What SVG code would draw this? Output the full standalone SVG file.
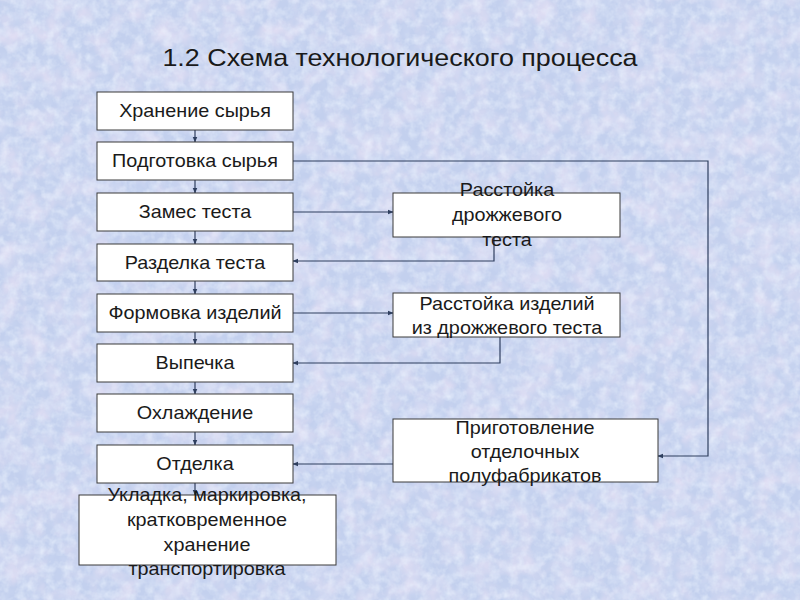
<svg xmlns="http://www.w3.org/2000/svg" width="800" height="600" viewBox="0 0 800 600">
<defs>
<filter id="pink" x="0" y="0" width="100%" height="100%">
<feTurbulence type="fractalNoise" baseFrequency="0.045" numOctaves="3" seed="2"/>
<feColorMatrix type="matrix" values="0 0 0 0 0.86  0 0 0 0 0.78  0 0 0 0 0.92  1.4 0 0 0 -0.55"/>
</filter>
<filter id="light" x="0" y="0" width="100%" height="100%">
<feTurbulence type="fractalNoise" baseFrequency="0.11" numOctaves="3" seed="7"/>
<feColorMatrix type="matrix" values="0 0 0 0 0.84  0 0 0 0 0.9  0 0 0 0 0.99  0 1.3 0 0 -0.5"/>
</filter>
<filter id="dark" x="0" y="0" width="100%" height="100%">
<feTurbulence type="fractalNoise" baseFrequency="0.09" numOctaves="2" seed="11"/>
<feColorMatrix type="matrix" values="0 0 0 0 0.62  0 0 0 0 0.7  0 0 0 0 0.9  0 0 1.2 0 -0.55"/>
</filter>
<marker id="ah" viewBox="0 0 10 10" refX="9" refY="5" markerWidth="5" markerHeight="5" orient="auto">
<path d="M0,1 L10,5 L0,9 z" fill="#2f3f5f"/>
</marker>
<style>
.box{fill:#ffffff;stroke:#3a3a3a;stroke-width:1}
.t{font-family:"Liberation Sans",Arial,sans-serif;font-size:18px;fill:#1a1a1a;text-anchor:middle}
.c{fill:none;stroke:#2f3f5f;stroke-width:1.2}
</style>
</defs>
<rect width="800" height="600" fill="#c3d0ee"/>
<rect width="800" height="600" filter="url(#pink)"/>
<rect width="800" height="600" filter="url(#light)"/>
<rect width="800" height="600" filter="url(#dark)"/>
<g transform="translate(400,0) scale(1.12,1)">
<text x="0" y="66" style="font-family:'Liberation Sans',Arial,sans-serif;font-size:24px;fill:#1a1a1a;text-anchor:middle">1.2 Схема технологического процесса</text>
</g>

<g id="connectors">
<line class="c" x1="195" y1="130" x2="195" y2="142" marker-end="url(#ah)"/>
<line class="c" x1="195" y1="180" x2="195" y2="193" marker-end="url(#ah)"/>
<line class="c" x1="195" y1="231" x2="195" y2="244" marker-end="url(#ah)"/>
<line class="c" x1="195" y1="281" x2="195" y2="294" marker-end="url(#ah)"/>
<line class="c" x1="195" y1="332" x2="195" y2="344" marker-end="url(#ah)"/>
<line class="c" x1="195" y1="382" x2="195" y2="394" marker-end="url(#ah)"/>
<line class="c" x1="195" y1="432" x2="195" y2="445" marker-end="url(#ah)"/>
<line class="c" x1="195" y1="483" x2="195" y2="495" marker-end="url(#ah)"/>
<polyline class="c" points="293,161 708,161 708,456 658,456" marker-end="url(#ah)"/>
<line class="c" x1="293" y1="212" x2="393" y2="212" marker-end="url(#ah)"/>
<polyline class="c" points="494,237 494,261 293,261" marker-end="url(#ah)"/>
<line class="c" x1="293" y1="313" x2="393" y2="313" marker-end="url(#ah)"/>
<polyline class="c" points="500,337 500,363 293,363" marker-end="url(#ah)"/>
<line class="c" x1="393" y1="464" x2="293" y2="464" marker-end="url(#ah)"/>
</g>

<g id="n1"><rect class="box" x="97" y="92" width="196" height="38"/><g transform="translate(195,0) scale(1.1,1)"><text class="t" x="0" y="117">Хранение сырья</text></g></g>
<g id="n2"><rect class="box" x="97" y="142" width="196" height="38"/><g transform="translate(195,0) scale(1.1,1)"><text class="t" x="0" y="167">Подготовка сырья</text></g></g>
<g id="n3"><rect class="box" x="97" y="193" width="196" height="38"/><g transform="translate(195,0) scale(1.1,1)"><text class="t" x="0" y="218">Замес теста</text></g></g>
<g id="n4"><rect class="box" x="97" y="244" width="196" height="37"/><g transform="translate(195,0) scale(1.1,1)"><text class="t" x="0" y="269">Разделка теста</text></g></g>
<g id="n5"><rect class="box" x="97" y="294" width="196" height="38"/><g transform="translate(195,0) scale(1.1,1)"><text class="t" x="0" y="319">Формовка изделий</text></g></g>
<g id="n6"><rect class="box" x="97" y="344" width="196" height="38"/><g transform="translate(195,0) scale(1.1,1)"><text class="t" x="0" y="369">Выпечка</text></g></g>
<g id="n7"><rect class="box" x="97" y="394" width="196" height="38"/><g transform="translate(195,0) scale(1.1,1)"><text class="t" x="0" y="419">Охлаждение</text></g></g>
<g id="n8"><rect class="box" x="97" y="445" width="196" height="38"/><g transform="translate(195,0) scale(1.1,1)"><text class="t" x="0" y="470">Отделка</text></g></g>
<g id="n9"><rect class="box" x="79" y="495" width="257" height="70"/>
<g transform="translate(207,0) scale(1.1,1)">
<text class="t" x="0" y="501">Укладка, маркировка,</text>
<text class="t" x="0" y="526">кратковременное</text>
<text class="t" x="0" y="551">хранение</text>
<text class="t" x="0" y="575">транспортировка</text></g></g>

<g id="r1"><rect class="box" x="393" y="193" width="227" height="44"/>
<g transform="translate(507,0) scale(1.1,1)">
<text class="t" x="0" y="196">Расстойка</text>
<text class="t" x="0" y="221">дрожжевого</text>
<text class="t" x="0" y="246">теста</text></g></g>
<g id="r2"><rect class="box" x="393" y="293" width="227" height="44"/>
<g transform="translate(507,0) scale(1.1,1)">
<text class="t" x="0" y="310">Расстойка изделий</text>
<text class="t" x="0" y="334">из дрожжевого теста</text></g></g>
<g id="r3"><rect class="box" x="393" y="419" width="265" height="63"/>
<g transform="translate(525,0) scale(1.1,1)">
<text class="t" x="0" y="434">Приготовление</text>
<text class="t" x="0" y="458">отделочных</text>
<text class="t" x="0" y="482">полуфабрикатов</text></g></g>
</svg>
